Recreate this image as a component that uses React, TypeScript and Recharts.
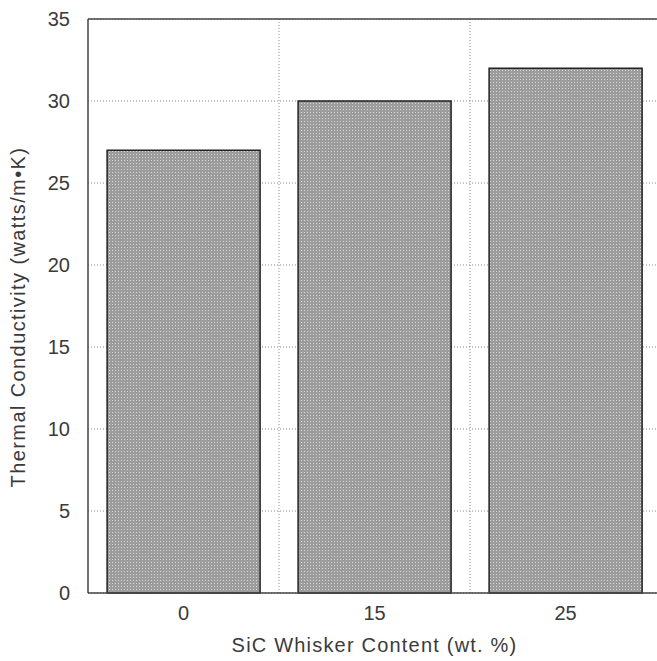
import { Bar, BarChart, CartesianGrid, Label, ReferenceLine, XAxis, YAxis } from "recharts";

const categories = ["0", "15", "25"];
const conductivity = [27, 30, 32];
const yTicks = [0, 5, 10, 15, 20, 25, 30, 35];

const FONT = "'Liberation Sans', Arial, sans-serif";
const TEXT = "#3a3a3a";

export default function App() {
  const data = categories.map((c, i) => ({ content: c, value: conductivity[i] }));

  return (
    <div
      style={{
        position: "fixed",
        left: 0,
        top: 0,
        width: 657,
        height: 661,
        overflow: "hidden",
        background: "#fff",
      }}
    >
      <BarChart
        width={680}
        height={661}
        data={data}
        margin={{ top: 19, right: 19, bottom: 0, left: 0 }}
        barCategoryGap="10%"
      >
        <defs>
          <pattern id="halftone" width="3" height="3" patternUnits="userSpaceOnUse">
            <rect width="3" height="3" fill="#9c9c9c" />
            <rect x="1" y="1" width="1" height="1" fill="#d8d8d8" />
          </pattern>
        </defs>
        <CartesianGrid
          stroke="#8a8a8a"
          strokeDasharray="1 2"
          verticalCoordinatesGenerator={({ offset }: any) =>
            categories
              .slice(1)
              .map((_, i) => offset.left + ((i + 1) * offset.width) / categories.length)
          }
        />
        <XAxis
          dataKey="content"
          height={68}
          tickLine={false}
          tickSize={0}
          tickMargin={13}
          axisLine={{ stroke: "#444", strokeWidth: 1.5 }}
          tick={{ fill: TEXT, fontSize: 20, fontFamily: FONT }}
          label={{
            value: "SiC Whisker Content (wt. %)",
            position: "insideBottom",
            offset: 9,
            fill: TEXT,
            fontSize: 20,
            fontFamily: FONT,
            letterSpacing: 1.2,
          }}
        />
        <YAxis
          width={88}
          domain={[0, 35]}
          ticks={yTicks}
          interval={0}
          tickLine={false}
          tickSize={0}
          tickMargin={18}
          axisLine={{ stroke: "#444", strokeWidth: 1.5 }}
          tick={{ fill: TEXT, fontSize: 20, fontFamily: FONT }}
        >
          <Label
            content={({ viewBox }: any) => {
              const cx = 18;
              const cy = viewBox.y + viewBox.height / 2 + 11;
              return (
                <text
                  x={cx}
                  y={cy}
                  transform={`rotate(-90 ${cx} ${cy})`}
                  textAnchor="middle"
                  dominantBaseline="central"
                  fill={TEXT}
                  fontSize={20}
                  fontFamily={FONT}
                  letterSpacing={1.4}
                >
                  Thermal Conductivity (watts/m•K)
                </text>
              );
            }}
          />
        </YAxis>
        <ReferenceLine y={35} stroke="#444" strokeWidth={1.5} />
        <Bar
          dataKey="value"
          fill="url(#halftone)"
          stroke="#222"
          strokeWidth={1.5}
          isAnimationActive={false}
        />
      </BarChart>
    </div>
  );
}
